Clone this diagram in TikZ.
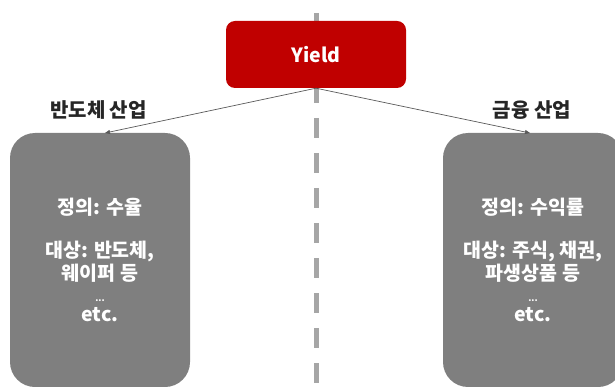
\documentclass[tikz,border=0pt]{standalone}
\usepackage{fontspec}
\setmainfont{Noto Sans CJK KR}
\usetikzlibrary{arrows.meta}
\definecolor{yred}{HTML}{C00000}
\definecolor{boxgray}{HTML}{7F7F7F}
\definecolor{dashgray}{HTML}{A6A6A6}
\definecolor{linegray}{HTML}{595959}
\tikzset{
  catbox/.style={fill=boxgray, rounded corners=25pt, minimum width=180pt, minimum height=254pt,
    text=white, align=center, font=\fontsize{19.5}{23.5}\selectfont\bfseries, inner sep=0pt},
  toptitle/.style={fill=yred, rounded corners=9pt, minimum width=180pt, minimum height=67pt,
    text=white, font=\fontsize{19.5}{20}\selectfont\bfseries},
  label/.style={font=\fontsize{20}{22}\selectfont\bfseries, text=black!85},
  conn/.style={draw=linegray, line width=0.7pt, -{Triangle[length=5pt,width=4pt]}},
  divider/.style={draw=dashgray, line width=4.5pt, dash pattern=on 20pt off 15pt}
}
\newcommand{\tinydots}{{\fontsize{9}{9}\selectfont ...}}
\begin{document}
\begin{tikzpicture}[x=1pt,y=-1pt]
\useasboundingbox (0,0) rectangle (615,387);
\coordinate (dtop) at (316.5,13);
\coordinate (dbot) at (316.5,400);
\draw[divider] (dtop) -- (dbot);
\node[catbox] (left) at (100,260) {정의: 수율\\[19pt]대상: 반도체,\\웨이퍼 등\\[-3pt]\tinydots\\[-3pt]etc.};
\node[catbox] (right) at (533,260) {정의: 수익률\\[19pt]대상: 주식, 채권,\\파생상품 등\\[-3pt]\tinydots\\[-3pt]etc.};
\node[toptitle] (yield) at (316,54.5) {Yield};
\node[label] (llab) at (98.5,110) {반도체 산업};
\node[label] (rlab) at (532,110) {금융 산업};
\coordinate (ltip) at (105,133);
\coordinate (rtip) at (530,133);
\draw[conn] (yield.south) -- (ltip);
\draw[conn] (yield.south) -- (rtip);
\end{tikzpicture}
\end{document}
